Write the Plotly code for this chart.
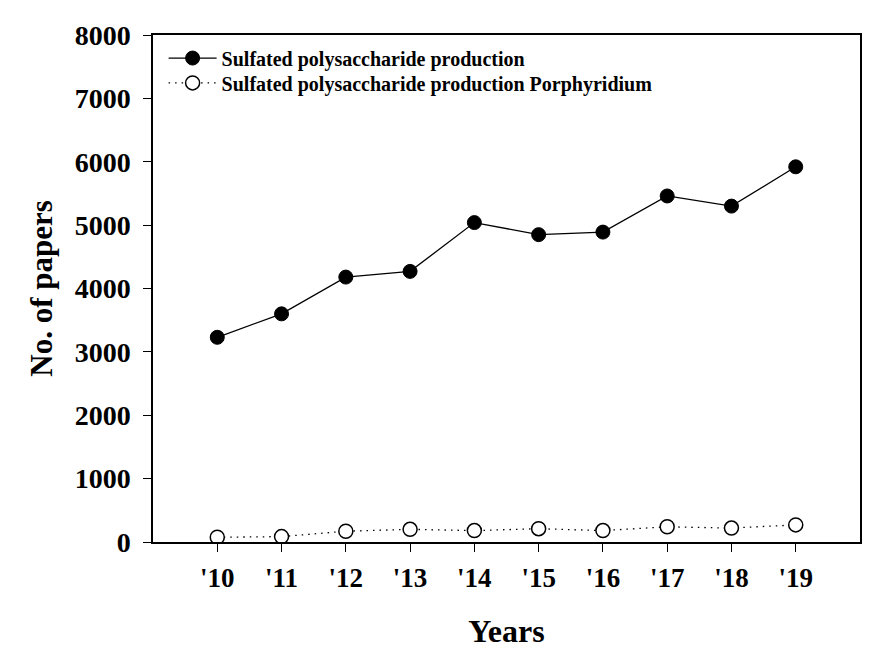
import plotly.graph_objects as go

years = [2010, 2011, 2012, 2013, 2014, 2015, 2016, 2017, 2018, 2019]
tick_labels = ["'10", "'11", "'12", "'13", "'14", "'15", "'16", "'17", "'18", "'19"]
sp_production = [3230, 3600, 4180, 4270, 5040, 4850, 4890, 5460, 5300, 5920]
sp_porphyridium = [75, 85, 170, 200, 180, 210, 180, 240, 220, 270]

font_family = "Liberation Serif"

fig = go.Figure()
fig.add_trace(go.Scatter(
    x=years, y=sp_production, mode="lines+markers",
    name="<b>Sulfated polysaccharide production</b>",
    line=dict(color="black", width=1.3),
    marker=dict(symbol="circle", size=14, color="black", line=dict(color="black", width=1)),
    legend="legend",
))
fig.add_trace(go.Scatter(
    x=years, y=sp_porphyridium, mode="lines+markers",
    name="<b>Sulfated polysaccharide production Porphyridium</b>",
    line=dict(color="black", width=1.3, dash="1.5px,5px"),
    marker=dict(symbol="circle", size=14, color="white", line=dict(color="black", width=1.5)),
    legend="legend2",
))

legend_common = dict(xanchor="left", yanchor="top",
                     font=dict(family=font_family, size=20, color="black"),
                     bgcolor="rgba(0,0,0,0)", itemwidth=48)

fig.update_layout(
    width=886, height=656,
    paper_bgcolor="white", plot_bgcolor="white",
    margin=dict(l=145, r=34, t=25, b=122),
    font=dict(family=font_family, color="black"),
    showlegend=True,
    legend=dict(x=0.015, y=0.993, **legend_common),
    legend2=dict(x=0.015, y=0.944, **legend_common),
    xaxis=dict(
        range=[2009, 2020], tickmode="array", tickvals=years, ticktext=tick_labels,
        ticks="outside", ticklen=8, tickwidth=1.3, tickcolor="black",
        ticklabelstandoff=3,
        showline=True, linecolor="black", linewidth=1.5, mirror=True,
        showgrid=False, zeroline=False,
        tickfont=dict(family=font_family, size=27, color="black", weight="bold"),
        title=dict(text="<b>Years</b>", font=dict(family=font_family, size=32, color="black"), standoff=27),
    ),
    yaxis=dict(
        range=[0, 8000], tickmode="array", tickvals=[0, 1000, 2000, 3000, 4000, 5000, 6000, 7000, 8000],
        ticks="outside", ticklen=8, tickwidth=1.3, tickcolor="black",
        ticklabelstandoff=7,
        showline=True, linecolor="black", linewidth=1.5, mirror=True,
        showgrid=False, zeroline=False,
        tickfont=dict(family=font_family, size=28, color="black", weight="bold"),
        title=dict(text="<b>No. of papers</b>", font=dict(family=font_family, size=31, color="black"), standoff=13),
    ),
)

fig.write_html("out.html")
